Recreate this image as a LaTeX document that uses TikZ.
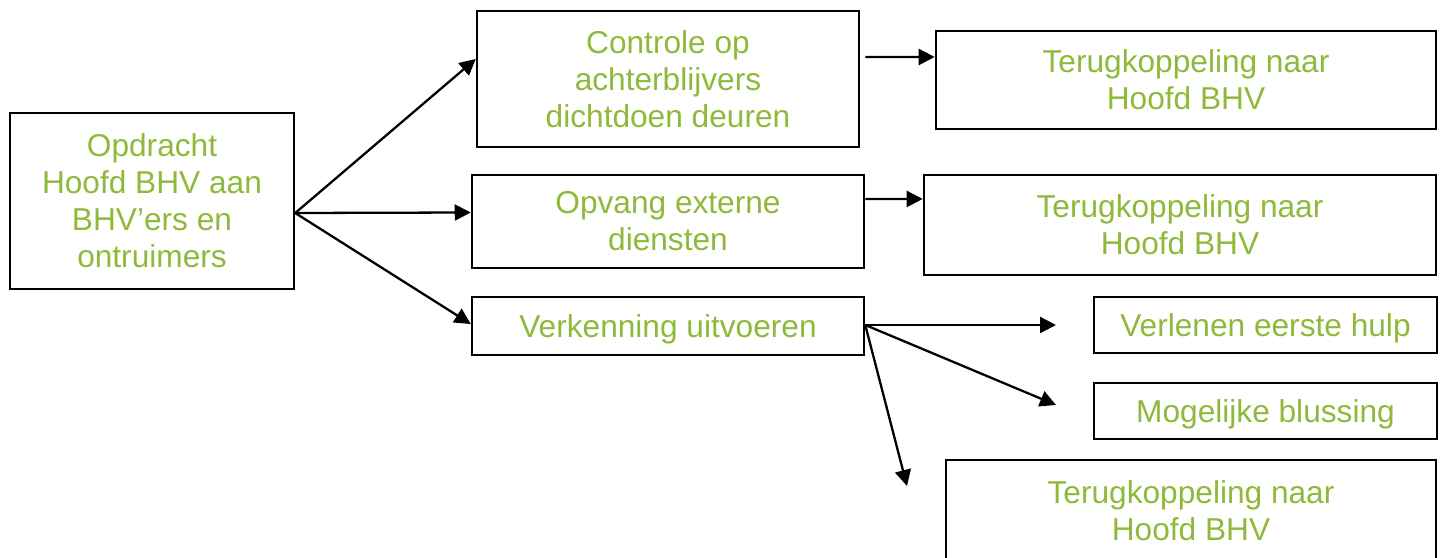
\documentclass[tikz,border=0pt]{standalone}
\usepackage{fontspec}
\setmainfont{Liberation Sans}
\usetikzlibrary{arrows.meta}
\definecolor{txtgreen}{RGB}{143,185,58}
\begin{document}
\begin{tikzpicture}[x=0.01cm,y=-0.01cm,
  box/.style={draw=black, line width=0.65pt, inner sep=0pt, align=center,
    text=txtgreen, font=\fontsize{9pt}{10.5pt}\selectfont},
  oneline/.style={text height=0.30cm, text depth=0.08cm},
  conn/.style={line width=0.65pt, -{Triangle[length=0.16cm,width=0.16cm]}}]
\useasboundingbox (0,0) rectangle (1443,558);
\node[box, minimum width=2.84cm, minimum height=1.76cm] (opd) at (152,201)
  {Opdracht\\Hoofd BHV aan\\BHV’ers en\\ontruimers};
\node[box, minimum width=3.82cm, minimum height=1.36cm] (ctrl) at (668,79)
  {Controle op\\achterblijvers\\dichtdoen deuren};
\node[box, minimum width=5.00cm, minimum height=0.98cm] (t1) at (1186,80)
  {Terugkoppeling naar\\Hoofd BHV};
\node[box, minimum width=3.92cm, minimum height=0.93cm] (opv) at (668,221.5)
  {Opvang externe\\diensten};
\node[box, minimum width=5.12cm, minimum height=1.00cm] (t2) at (1180,225)
  {Terugkoppeling naar\\Hoofd BHV};
\node[box, oneline, minimum width=3.92cm, minimum height=0.58cm] (verk) at (668,326)
  {Verkenning uitvoeren};
\node[box, oneline, minimum width=3.43cm, minimum height=0.56cm] (verl) at (1265.5,325)
  {Verlenen eerste hulp};
\node[box, oneline, minimum width=3.43cm, minimum height=0.56cm] (mog) at (1265.5,411)
  {Mogelijke blussing};
\node[box, minimum width=4.90cm, minimum height=1.02cm] (t3) at (1191,511)
  {Terugkoppeling naar\\Hoofd BHV};
\coordinate (e1) at (1056,325);
\coordinate (e2) at (1056,405);
\coordinate (e3) at (907,486);
\draw[conn] ([yshift=-0.12cm]opd.east) -- ([yshift=0.2cm]ctrl.west);
\draw[conn] ([yshift=-0.12cm]opd.east) -- ([yshift=0.09cm]opv.west);
\draw[conn] ([yshift=-0.12cm]opd.east) -- ([yshift=0.02cm]verk.west);
\draw[conn] ([shift={(0.05cm,0.22cm)}]ctrl.east) -- ([yshift=0.23cm]t1.west);
\draw[conn] ([yshift=0.225cm]opv.east) -- ([yshift=0.26cm]t2.west);
\draw[conn] ([yshift=0.01cm]verk.east) -- (e1);
\draw[conn] ([yshift=0.01cm]verk.east) -- (e2);
\draw[conn] ([yshift=0.01cm]verk.east) -- (e3);
\end{tikzpicture}
\end{document}
